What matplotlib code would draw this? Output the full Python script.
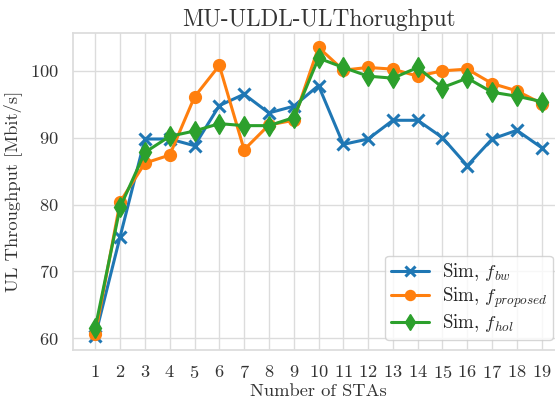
import matplotlib
matplotlib.use("Agg")
import matplotlib.pyplot as plt
import seaborn as sns

stas = list(range(1, 20))
f_bw = [60.4, 75.2, 89.8, 89.8, 88.8, 94.8, 96.5, 93.7, 94.7, 97.8,
        89.0, 89.8, 92.6, 92.6, 90.0, 85.8, 89.8, 91.1, 88.5]
f_proposed = [60.6, 80.4, 86.2, 87.4, 96.1, 100.8, 88.2, 91.9, 92.6, 103.5,
              100.1, 100.5, 100.25, 99.2, 100.0, 100.25, 98.1, 97.0, 95.1]
f_hol = [61.6, 79.6, 87.8, 90.2, 91.0, 92.1, 91.8, 91.8, 93.0, 101.9,
         100.5, 99.2, 98.9, 100.5, 97.5, 98.9, 96.8, 96.2, 95.4]
series_labels = ["Sim, $f_{bw}$", "Sim, $f_{proposed}$", "Sim, $f_{hol}$"]

sns.set_theme(style="whitegrid")
plt.rcParams['font.family'] = 'serif'
plt.rcParams['font.serif'] = ['cmr10', 'DejaVu Serif']
plt.rcParams['mathtext.fontset'] = 'cm'
plt.rcParams['axes.formatter.use_mathtext'] = True

fig = plt.figure(figsize=(5.55, 4), dpi=100)
ax = fig.add_axes([73/555, 50/400, 491/555, 317/400])

ax.plot(stas, f_bw, color="#1f77b4", marker="x", markersize=8, mew=2.2, lw=2.2, label=series_labels[0])
ax.plot(stas, f_proposed, color="#ff7f0e", marker="o", markersize=8.5, lw=2.2, label=series_labels[1])
ax.plot(stas, f_hol, color="#2ca02c", marker="d", markersize=10, lw=2.2, label=series_labels[2])

ax.set_xticks(stas)
ax.set_yticks([60, 70, 80, 90, 100])
ax.grid(color="#dcdcdc", lw=1.0)
ax.tick_params(labelsize=13.3, colors="#333333", pad=4)
ax.set_title("MU-ULDL-ULThorughput", fontsize=16.8, color="#333333", pad=5)
ax.set_xlabel("Number of STAs", fontsize=13.3, color="#333333", labelpad=2)
ax.set_ylabel("UL Throughput [Mbit/s]", fontsize=13.3, color="#333333", labelpad=6)
ax.legend(loc="lower right", fontsize=13.6, bbox_to_anchor=(480/491, 10/317),
          borderaxespad=0, frameon=True, borderpad=0.3, handlelength=2.0,
          labelspacing=0.12, handletextpad=0.7, markerscale=0.85)
for s in ax.spines.values():
    s.set_color("#dcdcdc")

fig.savefig("out.png", dpi=100)
